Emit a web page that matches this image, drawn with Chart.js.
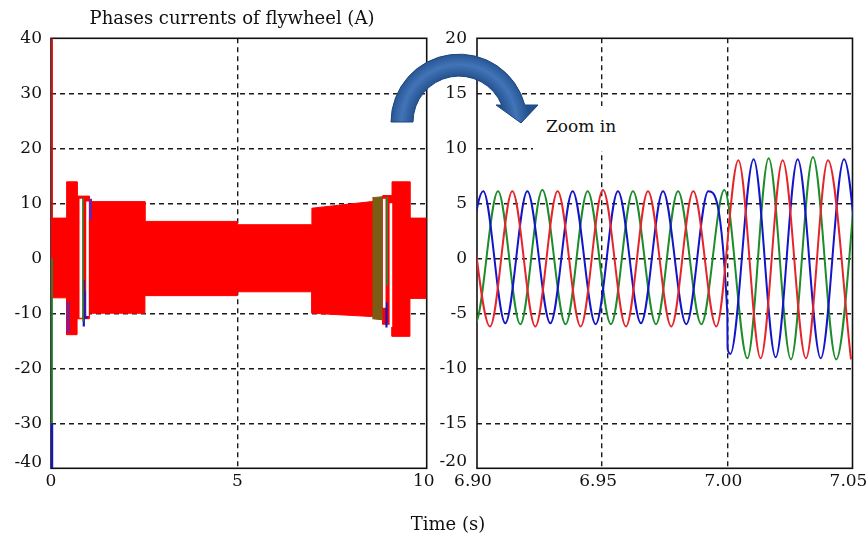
<!DOCTYPE html>
<html>
<head>
<meta charset="utf-8">
<title>Phases currents of flywheel</title>
<script src="https://cdn.jsdelivr.net/npm/chart.js@4.4.1/dist/chart.umd.min.js"></script>
<style>
  html, body { margin: 0; padding: 0; background: #fff; }
  body { width: 866px; height: 540px; position: relative; overflow: hidden; font-family: 'DejaVu Serif', serif; color: #111; }
  canvas { position: absolute; top: 0; }
  #leftChart { left: 0; }
  #rightChart { left: 430px; }
  .txt { position: absolute; white-space: nowrap; line-height: 18px; }
  #title { left: 0; width: 464px; top: 9px; text-align: center; font-size: 18px; }
  #xTitle { left: 348px; width: 200px; top: 515px; text-align: center; font-size: 18px; }
  #zoomBox { position: absolute; left: 533px; top: 106px; width: 104px; height: 45px; background: #fff; }
  #zoomText { left: 546px; top: 117px; font-size: 17px; }
  svg { position: absolute; left: 0; top: 0; }
</style>
</head>
<body>
<canvas id="leftChart" width="470" height="540"></canvas>
<canvas id="rightChart" width="450" height="540"></canvas>
<div class="txt" id="title">Phases currents of flywheel (A)</div>
<div class="txt" id="xTitle">Time (s)</div>
<div id="zoomBox"></div>
<div class="txt" id="zoomText">Zoom in</div>
<svg width="866" height="540" viewBox="0 0 866 540">
  <defs>
    <radialGradient id="arrowFill" gradientUnits="userSpaceOnUse" cx="459" cy="122" r="70">
      <stop offset="0.64" stop-color="#22508c"/>
      <stop offset="0.82" stop-color="#4274b8"/>
      <stop offset="1" stop-color="#22508c"/>
    </radialGradient>
  </defs>
  <path d="M 391 122 A 68 68 0 0 1 524.8 105 L 538 105 L 521 123 L 496 105 L 501.7 105 A 46 46 0 0 0 413 122 Z"
        fill="url(#arrowFill)" stroke="#1d4680" stroke-width="1"/>
</svg>

<script>
// ---- left panel: 0 .. 10 s ----
const leftXTicks = [0, 5, 10];
const leftXLabels = ['0', '5', '10'];
const leftYTicks = [-37.1, -30, -20, -10, 0, 10, 20, 30, 40];
const leftYLabels = ['-40', '-30', '-20', '-10', '0', '10', '20', '30', '40'];

// envelope of the (very dense) phase currents
const envT =     [0, 0.42, 0.42, 0.70, 0.70, 1.03, 1.03, 2.52, 2.52, 5.0, 5.0, 7.0, 7.0, 8.6, 8.9, 8.9, 9.15, 9.15, 9.63, 9.63, 10.08];
const envUpper = [7.3, 7.3, 13.9, 13.9, 11.3, 11.3, 10.3, 10.3, 6.7, 6.7, 6.1, 6.1, 9.1, 10.3, 11.2, 11.4, 11.4, 13.9, 13.9, 7.3, 7.3];
const envLower = [-7.2, -7.2, -13.9, -13.9, -11.0, -11.0, -10.0, -10.0, -6.8, -6.8, -6.1, -6.1, -10.0, -10.6, -11.2, -12.0, -12.0, -14.2, -14.2, -7.3, -7.3];

// brown part of the second transient
const oliveT = [8.62, 8.9];
const oliveUpper = [11.0, 11.2];
const oliveLower = [-11.0, -11.2];

// short vertical traces seen in the transients: time, from, to
const whiteSegT = [0.80, 0.98, 8.94, 9.12];
const whiteSegTop = [10.8, 10.3, 10.8, 10.0];
const whiteSegBottom = [-10.8, -10.5, -9.0, -12.5];

const greenSegT = [0.03, 0.86, 9.02];
const greenSegTop = [0, 11.0, 11.2];
const greenSegBottom = [-30, -11.5, -5];

const blueSegT = [0.03, 0.88, 0.95, 9.0];
const blueSegTop = [-30, -4, -6, -8];
const blueSegBottom = [-38.2, -12.4, -11, -12.6];

const purpleSegT = [0.46, 1.06];
const purpleSegTop = [-8, 10.8];
const purpleSegBottom = [-13.5, 7];

const redSegT = [0.03];
const redSegTop = [40];
const redSegBottom = [0];

// ---- right panel: zoom 6.90 .. 7.05 s (peaks and troughs) ----
const rightXTicks = [6.90, 6.95, 7.00, 7.05];
const rightXLabels = ['6.90', '6.95', '7.00', '7.05'];
const rightYTicks = [-18.5, -15, -10, -5, 0, 5, 10, 15, 20];
const rightYLabels = ['-20', '-15', '-10', '-5', '0', '5', '10', '15', '20'];

const blueT = [6.8932, 6.9025, 6.9113, 6.9201, 6.9293, 6.9382, 6.9474, 6.9563, 6.9655, 6.9743, 6.9836, 6.9924, 7.0000, 7.0001, 7.0012, 7.0105, 7.0193, 7.0281, 7.0373, 7.0466, 7.0554];
const blueI = [-5.9, 6.1, -5.9, 6.1, -5.9, 6.1, -6.0, 6.1, -5.9, 6.1, -6.0, 6.1, -5.0, -8.2, -8.7, 9.0, -9.0, 9.0, -9.1, 9.0, -9.1];

const greenT = [6.8904, 6.8992, 6.9084, 6.9173, 6.9261, 6.9354, 6.9442, 6.9535, 6.9623, 6.9715, 6.9803, 6.9896, 6.9988, 7.0080, 7.0165, 7.0254, 7.0342, 7.0435, 7.0522];
const greenI = [6.1, -6.0, 6.1, -6.0, 6.2, -6.0, 6.1, -6.0, 6.1, -6.0, 6.1, -6.0, 6.2, -9.1, 9.1, -9.2, 9.2, -9.2, 9.1];

const redT = [6.8964, 6.9052, 6.9141, 6.9233, 6.9322, 6.9414, 6.9503, 6.9595, 6.9683, 6.9776, 6.9864, 6.9956, 7.0044, 7.0133, 7.0221, 7.0314, 7.0402, 7.0494];
const redI = [6.1, -6.2, 6.1, -6.2, 6.1, -6.2, 6.2, -6.2, 6.1, -6.2, 6.1, -6.2, 8.9, -9.1, 8.9, -9.1, 8.9, -9.2];

const RED = '#ff0000';
const BLUE = '#1414c8';
const GREEN = '#1d8c2b';
const FONT = { family: 'DejaVu Serif', size: 17 };

function pts(ts, vs) {
  return ts.map((t, i) => ({ x: t, y: vs[i] }));
}

function segs(ts, tops, bottoms) {
  const out = [];
  ts.forEach((t, i) => {
    out.push({ x: t, y: tops[i] }, { x: t, y: bottoms[i] }, { x: t, y: null });
  });
  return out;
}

// box round the plot area, drawn under the curves
const framePlugin = {
  id: 'frame',
  beforeDatasetsDraw(chart) {
    const { ctx, chartArea: a } = chart;
    ctx.save();
    ctx.strokeStyle = '#111';
    ctx.lineWidth = 1.6;
    ctx.strokeRect(a.left, a.top, a.right - a.left, a.bottom - a.top);
    ctx.restore();
  }
};

function makeScale(min, max, tickValues, tickLabels, padding, labelOffset, fit) {
  return {
    type: 'linear',
    min: min,
    max: max,
    afterBuildTicks: (scale) => {
      scale.ticks = tickValues.map(v => ({ value: v }));
    },
    afterFit: fit,
    ticks: {
      autoSkip: false,
      maxRotation: 0,
      padding: padding,
      labelOffset: labelOffset,
      color: '#111',
      font: FONT,
      callback: (v, i) => tickLabels[i]
    },
    grid: {
      drawTicks: false,
      lineWidth: 1.4,
      color: (c) => (c.index === 0 || c.index === tickValues.length - 1) ? 'rgba(0,0,0,0)' : '#1a1a1a'
    },
    border: { display: false, dash: [5, 4] }
  };
}

function line(label, data, color, width, extra) {
  return Object.assign({
    label: label,
    data: data,
    borderColor: color,
    backgroundColor: color,
    borderWidth: width,
    pointRadius: 0,
    fill: false,
    spanGaps: false
  }, extra || {});
}

const baseOptions = {
  responsive: false,
  animation: false,
  devicePixelRatio: 1,
  plugins: { legend: { display: false }, tooltip: { enabled: false } },
  elements: { point: { radius: 0 } }
};

new Chart(document.getElementById('leftChart'), {
  type: 'line',
  data: {
    datasets: [
      line('white gaps', segs(whiteSegT, whiteSegTop, whiteSegBottom), '#ffffff', 2.6),
      line('phase b', segs(greenSegT, greenSegTop, greenSegBottom), GREEN, 1.6),
      line('phase c', segs(blueSegT, blueSegTop, blueSegBottom), BLUE, 2.2),
      line('overlap', segs(purpleSegT, purpleSegTop, purpleSegBottom), '#7a1fa0', 3),
      line('start spike', segs(redSegT, redSegTop, redSegBottom), RED, 1.6),
      line('brown upper', pts(oliveT, oliveUpper), '#7a5c14', 1, { fill: '+1' }),
      line('brown lower', pts(oliveT, oliveLower), '#7a5c14', 1),
      line('phase a upper', pts(envT, envUpper), RED, 1, { fill: '+1' }),
      line('phase a lower', pts(envT, envLower), RED, 1)
    ]
  },
  options: Object.assign({}, baseOptions, {
    layout: { padding: { top: 38.3, right: 43.3, left: 0, bottom: 0 } },
    scales: {
      x: makeScale(0, 10.08, leftXTicks, leftXLabels, 3, 0, (s) => { s.height = 71.7; }),
      y: makeScale(-38.2, 40, leftYTicks, leftYLabels, 9, 0, (s) => { s.width = 51; })
    }
  }),
  plugins: [framePlugin]
});

new Chart(document.getElementById('rightChart'), {
  type: 'line',
  data: {
    datasets: [
      line('ia', pts(redT, redI), '#e4262c', 2, { cubicInterpolationMode: 'monotone' }),
      line('ic', pts(blueT, blueI), BLUE, 2, { cubicInterpolationMode: 'monotone' }),
      line('ib', pts(greenT, greenI), GREEN, 2, { cubicInterpolationMode: 'monotone' })
    ]
  },
  options: Object.assign({}, baseOptions, {
    layout: { padding: { top: 38.3, right: 27.5, left: 0, bottom: 0 } },
    scales: {
      x: makeScale(6.90, 7.05, rightXTicks, rightXLabels, 3, -4, (s) => { s.height = 71.7; }),
      y: makeScale(-19.1, 20, rightYTicks, rightYLabels, 10, 0, (s) => { s.width = 47; })
    }
  }),
  plugins: [framePlugin]
});
</script>
</body>
</html>
